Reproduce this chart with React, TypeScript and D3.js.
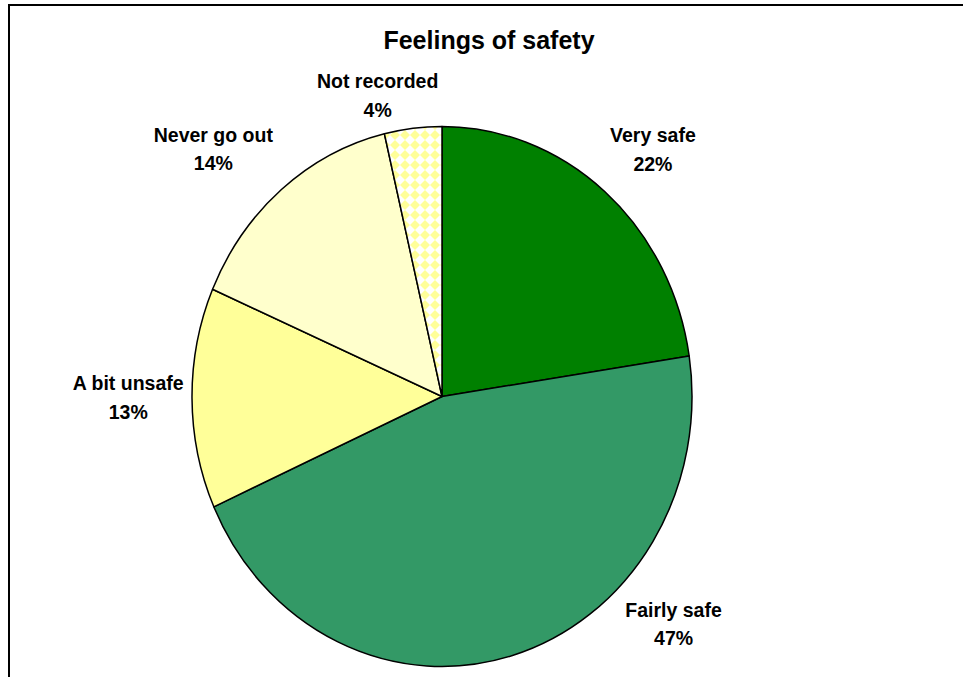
import React from 'react';
import * as d3 from 'd3';

// ---- data ----
const categories = ['Very safe', 'Fairly safe', 'A bit unsafe', 'Never go out', 'Not recorded'];
const values = [22.6, 45.7, 13.2, 14.8, 3.7];
const percentLabels = ['22%', '47%', '13%', '14%', '4%'];
const sliceFills = ['#008000', '#339966', '#FFFF99', '#FFFFCC', 'url(#diamonds)'];
const title = 'Feelings of safety';

// ---- layout ----
const W = 963;
const H = 677;
const cx = 442;
const cy = 396.5;
const rx = 250;
const ry = 270;
const FONT = '"Liberation Sans", Arial, Helvetica, sans-serif';
const labelSize = 19.5;
const labelGap = 1.08;
const labelBottomLimit = 650;
// fine label adjustments (Excel-like best-fit placement)
const labelNudge: [number, number][] = [[7, -6], [13, 0], [12, 1], [-17, -4], [-26, 14]];

function pt(a: number, k: number): [number, number] {
  return [cx + rx * k * Math.sin(a), cy - ry * k * Math.cos(a)];
}

function measure(text: string): number {
  if (typeof document === 'undefined') return text.length * labelSize * 0.55;
  const c = document.createElement('canvas').getContext('2d');
  if (!c) return text.length * labelSize * 0.55;
  c.font = `bold ${labelSize}px ${FONT}`;
  return c.measureText(text).width;
}

export default function App() {
  const arcs = d3.pie<number>().sort(null).value((d) => d)(values);

  const slices = arcs.map((a, i) => {
    const [x0, y0] = pt(a.startAngle, 1);
    const [x1, y1] = pt(a.endAngle, 1);
    const large = a.endAngle - a.startAngle > Math.PI ? 1 : 0;
    const d = `M${cx},${cy}L${x0},${y0}A${rx},${ry} 0 ${large} 1 ${x1},${y1}Z`;
    return { d, fill: sliceFills[i] };
  });

  const labels = arcs.map((a, i) => {
    const w = Math.max(measure(categories[i]), measure(percentLabels[i]));
    const h = 47.7;
    let t = (a.startAngle + a.endAngle) / 2;
    const place = (tt: number) => {
      const [ax, ay] = pt(tt, labelGap);
      return [ax + (w / 2) * Math.sin(tt), ay - (h / 2) * Math.cos(tt)];
    };
    let c = place(t);
    let guard = 0;
    while (c[1] + h / 2 > labelBottomLimit && guard < 180) {
      t += t < Math.PI ? -Math.PI / 180 : Math.PI / 180;
      c = place(t);
      guard++;
    }
    const [nx, ny] = labelNudge[i];
    const x = c[0] + nx;
    const y = c[1] + ny;
    return { x, y1: y - 9, y2: y - 9 + 28.7, name: categories[i], pct: percentLabels[i] };
  });

  return (
    <svg
      width={W}
      height={H}
      style={{ position: 'absolute', left: 0, top: 0, background: '#fff' }}
      fontFamily={FONT}
    >
      <defs>
        <pattern id="diamonds" patternUnits="userSpaceOnUse" width={10} height={10}>
          <rect width={10} height={10} fill="#ffffff" />
          <polygon points="5,0 10,5 5,10 0,5" fill="#FFFF99" />
        </pattern>
      </defs>
      <rect x={0} y={0} width={W} height={H} fill="#fff" />
      <rect x={9} y={5} width={W + 50} height={H + 50} fill="none" stroke="#000" strokeWidth={2} />
      <text x={489} y={49} textAnchor="middle" fontSize={25} fontWeight="bold" fill="#000">
        {title}
      </text>
      <g>
        {slices.map((s, i) => (
          <path key={i} d={s.d} fill={s.fill} stroke="#000" strokeWidth={1.5} strokeLinejoin="round" />
        ))}
      </g>
      <g fontSize={labelSize} fontWeight="bold" fill="#000" textAnchor="middle">
        {labels.map((l, i) => (
          <g key={i}>
            <text x={l.x} y={l.y1}>{l.name}</text>
            <text x={l.x} y={l.y2}>{l.pct}</text>
          </g>
        ))}
      </g>
    </svg>
  );
}
